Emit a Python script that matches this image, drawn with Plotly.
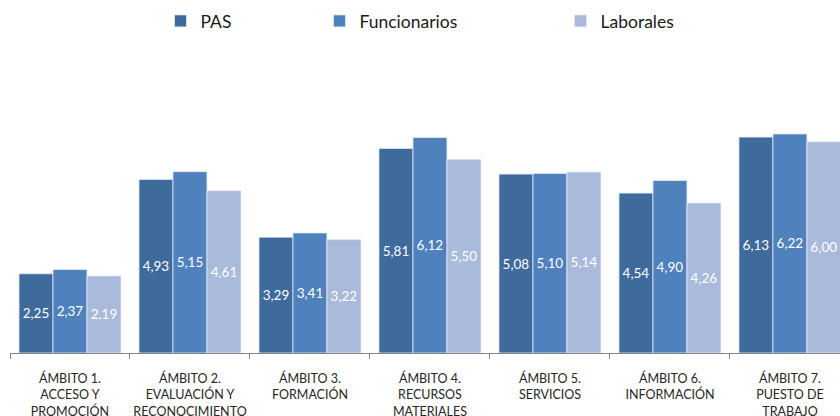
"""Grouped bar chart: valoración por ámbito."""

import plotly.graph_objects as go

categorias = [
    "ÁMBITO 1.<br>ACCESO Y<br>PROMOCIÓN",
    "ÁMBITO 2.<br>EVALUACIÓN Y<br>RECONOCIMIENTO",
    "ÁMBITO 3.<br>FORMACIÓN",
    "ÁMBITO 4.<br>RECURSOS<br>MATERIALES",
    "ÁMBITO 5.<br>SERVICIOS",
    "ÁMBITO 6.<br>INFORMACIÓN",
    "ÁMBITO 7.<br>PUESTO DE<br>TRABAJO",
]
pas = [2.25, 4.93, 3.29, 5.81, 5.08, 4.54, 6.13]
funcionarios = [2.37, 5.15, 3.41, 6.12, 5.10, 4.90, 6.22]
laborales = [2.19, 4.61, 3.22, 5.50, 5.14, 4.26, 6.00]

series = [
    ("PAS", pas, "#3F6A9C", "legend", 0.1813),
    ("Funcionarios", funcionarios, "#4F81BD", "legend2", 0.3729),
    ("Laborales", laborales, "#A9BADA", "legend3", 0.6633),
]

fig = go.Figure()
for name, values, color, legend, _ in series:
    fig.add_trace(
        go.Bar(
            name=name,
            x=categorias,
            y=values,
            marker=dict(color=color, line=dict(color="#E4EBF5", width=0.8)),
            texttemplate="%{y:.2f}",
            textposition="inside",
            insidetextanchor="middle",
            textangle=0,
            textfont=dict(color="white", size=13.5, family="Lato"),
            legend=legend,
            showlegend=True,
        )
    )

legend_style = dict(
    orientation="h",
    y=1.133,
    yanchor="middle",
    xanchor="left",
    font=dict(size=17.5, color="#1a1a1a", family="Lato"),
    bgcolor="rgba(0,0,0,0)",
    visible=True,
)
legends = {}
for name, _, _, legend, xpos in series:
    legends[legend] = dict(legend_style, x=xpos)

fig.update_layout(
    width=840,
    height=416,
    margin=dict(l=10, r=0, t=60, b=63, autoexpand=False),
    paper_bgcolor="white",
    plot_bgcolor="white",
    barmode="group",
    bargap=0.15,
    bargroupgap=0,
    separators=",.",
    showlegend=True,
    uniformtext=dict(mode="show", minsize=10),
    **legends,
)
fig.update_xaxes(
    range=[-0.5, 6.417],
    showline=True,
    linecolor="#868686",
    linewidth=1,
    ticks="outside",
    tickson="boundaries",
    ticklen=5,
    tickcolor="#868686",
    tickangle=0,
    ticklabelstandoff=14,
    automargin=False,
    tickfont=dict(size=12.5, color="#262626", family="Lato"),
    showgrid=False,
)
fig.update_yaxes(range=[0, 8.32], visible=False, showgrid=False, automargin=False)

# drop the default page margin so the figure fills the window exactly
fig.write_html(
    "out.html",
    config={"displayModeBar": False},
    post_script="document.body.style.margin='0';",
)
